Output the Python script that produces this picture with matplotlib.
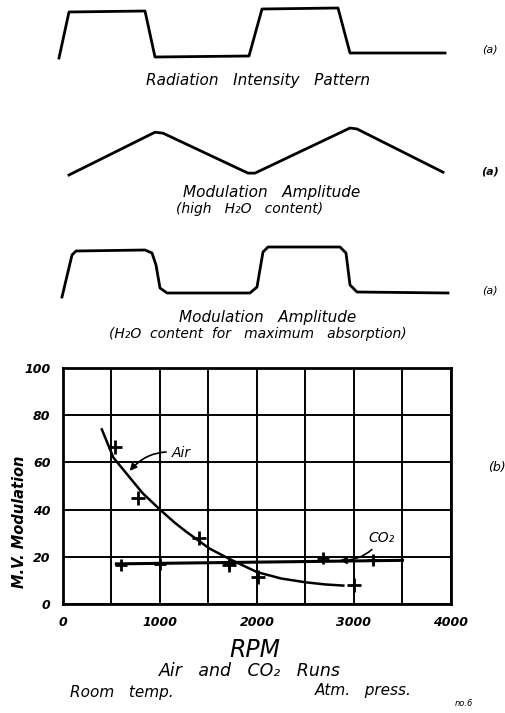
import matplotlib
matplotlib.use("Agg")
import matplotlib.pyplot as plt

# waveform sketches: t along the sweep, amplitude 0 (low) .. 1 (high)
radiation_t = [4, 14, 90, 100, 194, 207, 283, 295, 390]
radiation_amp = [0.0, 0.92, 0.94, 0.02, 0.04, 0.98, 1.0, 0.10, 0.10]

high_h2o_t = [14, 100, 108, 193, 200, 295, 302, 388]
high_h2o_amp = [0.0, 0.91, 0.89, 0.04, 0.04, 1.0, 0.98, 0.06]

max_abs_t = [7, 17, 21, 90, 97, 101, 105, 112, 195, 202, 208, 213, 285, 291, 295, 302, 393]
max_abs_amp = [0.0, 0.84, 0.92, 0.94, 0.88, 0.64, 0.18, 0.08, 0.08, 0.20, 0.90, 1.0, 1.0, 0.88, 0.24, 0.10, 0.08]

# RPM chart (b)
air_curve_rpm = [400, 520, 670, 820, 1000, 1150, 1275, 1510, 1720, 2000, 2250, 2500, 2700, 2890]
air_curve_mv = [74, 62, 54.5, 47, 40, 34.5, 30.5, 23.5, 19, 13.5, 10.8, 9.2, 8.3, 7.8]
air_pts_rpm = [536, 773, 1400, 1710, 2010, 3000]
air_pts_mv = [66.5, 45, 28, 16.5, 11.5, 8]
co2_line_rpm = [550, 3500]
co2_line_mv = [17, 18.5]
co2_pts_rpm = [600, 1000, 1710, 2680, 3200]
co2_pts_mv = [16.5, 17, 17.5, 19.5, 18.5]

x_ticks = [0, 1000, 2000, 3000, 4000]
y_ticks = [0, 20, 40, 60, 80, 100]

W, H = 506, 713
fig = plt.figure(figsize=(W / 100, H / 100), dpi=100)
fnt = dict(style="italic", family="DejaVu Sans", color="black")


def px_axes(x0, x1, y0, y1):
    # axes placed by pixel box (y measured from top)
    return fig.add_axes([x0 / W, 1 - y1 / H, (x1 - x0) / W, (y1 - y0) / H])


def wave_panel(t, amp, ytop, ybot):
    a = px_axes(55, 450, ytop, ybot)
    a.plot(t, amp, color="black", lw=2.0, solid_joinstyle="round", clip_on=False)
    a.set_xlim(0, 395)
    a.set_ylim(0, 1)
    a.axis("off")


wave_panel(radiation_t, radiation_amp, 8, 58)
wave_panel(high_h2o_t, high_h2o_amp, 128, 175)
wave_panel(max_abs_t, max_abs_amp, 247, 297)

fig.text(490 / W, 1 - 50 / H, "(a)", fontsize=8, ha="center", va="center", **fnt)
fig.text(490 / W, 1 - 172 / H, "(a)", fontsize=8, ha="center", va="center", weight="bold", **fnt)
fig.text(490 / W, 1 - 290 / H, "(a)", fontsize=8, ha="center", va="center", **fnt)
fig.text(497 / W, 1 - 468 / H, "(b)", fontsize=9, ha="center", va="center", **fnt)

fig.text(258 / W, 1 - 81 / H, "Radiation   Intensity   Pattern", fontsize=11,
         ha="center", va="center", **fnt)
fig.text(272 / W, 1 - 193 / H, "Modulation   Amplitude", fontsize=11,
         ha="center", va="center", **fnt)
fig.text(250 / W, 1 - 209 / H, "(high   H₂O   content)", fontsize=10,
         ha="center", va="center", **fnt)
fig.text(268 / W, 1 - 318 / H, "Modulation   Amplitude", fontsize=11,
         ha="center", va="center", **fnt)
fig.text(258 / W, 1 - 334 / H, "(H₂O  content  for   maximum   absorption)", fontsize=10,
         ha="center", va="center", **fnt)

ax = px_axes(63, 451, 368, 604)
ax.plot(air_curve_rpm, air_curve_mv, color="black", lw=1.8)
ax.plot(air_pts_rpm, air_pts_mv, "+", color="black", ms=10, mew=2)
ax.plot(co2_line_rpm, co2_line_mv, color="black", lw=2.2)
ax.plot(co2_pts_rpm, co2_pts_mv, "+", color="black", ms=9, mew=2)

ax.set_xlim(0, 4000)
ax.set_ylim(0, 100)
ax.set_xticks(x_ticks)
ax.set_xticks(range(500, 4000, 1000), minor=True)
ax.set_yticks(y_ticks)
ax.grid(which="both", color="black", lw=1.4)
ax.tick_params(which="both", length=0)
ax.tick_params(axis="x", pad=9)
ax.tick_params(axis="y", pad=9)
for lab in ax.get_xticklabels() + ax.get_yticklabels():
    lab.set_fontstyle("italic")
    lab.set_fontweight("bold")
    lab.set_fontsize(9)
for s in ax.spines.values():
    s.set_linewidth(2)

ax.annotate("Air", xy=(670, 55.5), xytext=(1120, 64), fontsize=10, va="center", **fnt,
            arrowprops=dict(arrowstyle="-|>", color="black", lw=1.2,
                            connectionstyle="arc3,rad=0.3"))
ax.annotate("CO₂", xy=(2825, 18.6), xytext=(3150, 28), fontsize=10, va="center", **fnt,
            arrowprops=dict(arrowstyle="-|>", color="black", lw=1.2,
                            connectionstyle="arc3,rad=-0.3"))

fig.text(20 / W, 1 - 522 / H, "M.V. Modulation", fontsize=10.5, rotation=90,
         ha="center", va="center", weight="bold", **fnt)

fig.text(255 / W, 1 - 650 / H, "RPM", fontsize=17, ha="center", va="center", **fnt)
fig.text(250 / W, 1 - 671 / H, "Air   and   CO₂   Runs", fontsize=12.5,
         ha="center", va="center", **fnt)
fig.text(70 / W, 1 - 692 / H, "Room   temp.", fontsize=11, ha="left", va="center", **fnt)
fig.text(315 / W, 1 - 690 / H, "Atm.   press.", fontsize=11, ha="left", va="center", **fnt)
fig.text(455 / W, 1 - 703 / H, "no.6", fontsize=6, ha="left", va="center", **fnt)

fig.savefig("out.png", dpi=100)
